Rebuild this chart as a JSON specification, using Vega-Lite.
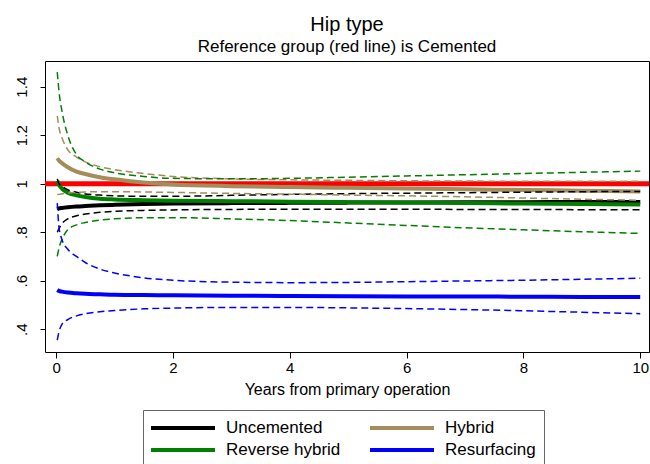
{
  "$schema": "https://vega.github.io/schema/vega-lite/v6.json",
  "autosize": {"type": "none"},
  "padding": {"left": 45, "top": 61, "right": 1, "bottom": 112},
  "width": 604,
  "height": 291,
  "title": {"text": "Hip type", "subtitle": "Reference group (red line) is Cemented"},
  "config": {
    "font": "Liberation Sans",
    "view": {"stroke": "#000", "strokeWidth": 1},
    "title": {"font": "Liberation Sans", "fontSize": 20, "fontWeight": "normal", "color": "#000", "subtitleFont": "Liberation Sans", "subtitleFontSize": 17, "subtitleColor": "#000", "subtitlePadding": 4, "anchor": "middle", "frame": "group", "offset": 6},
    "axis": {"grid": false, "domain": false, "tickColor": "#000", "labelColor": "#000", "labelFont": "Liberation Sans", "labelFontSize": 15, "titleFont": "Liberation Sans", "titleFontWeight": "normal", "titleColor": "#000"},
    "legend": {"labelFont": "Liberation Sans", "labelFontSize": 17, "labelColor": "#000"}
  },
  "datasets": {
    "est": [
      {"group": "Uncemented", "t": 0.02, "v": 0.895}, {"group": "Uncemented", "t": 0.05, "v": 0.898}, {"group": "Uncemented", "t": 0.1, "v": 0.9}, {"group": "Uncemented", "t": 0.2, "v": 0.903}, {"group": "Uncemented", "t": 0.35, "v": 0.906}, {"group": "Uncemented", "t": 0.5, "v": 0.908}, {"group": "Uncemented", "t": 0.75, "v": 0.911}, {"group": "Uncemented", "t": 1, "v": 0.913}, {"group": "Uncemented", "t": 1.5, "v": 0.916}, {"group": "Uncemented", "t": 2, "v": 0.918}, {"group": "Uncemented", "t": 3, "v": 0.92}, {"group": "Uncemented", "t": 4, "v": 0.921}, {"group": "Uncemented", "t": 5, "v": 0.922}, {"group": "Uncemented", "t": 6, "v": 0.923}, {"group": "Uncemented", "t": 7, "v": 0.924}, {"group": "Uncemented", "t": 8, "v": 0.924}, {"group": "Uncemented", "t": 9, "v": 0.925}, {"group": "Uncemented", "t": 10, "v": 0.925},
      {"group": "Hybrid", "t": 0.02, "v": 1.105}, {"group": "Hybrid", "t": 0.05, "v": 1.095}, {"group": "Hybrid", "t": 0.1, "v": 1.085}, {"group": "Hybrid", "t": 0.2, "v": 1.068}, {"group": "Hybrid", "t": 0.35, "v": 1.05}, {"group": "Hybrid", "t": 0.5, "v": 1.04}, {"group": "Hybrid", "t": 0.75, "v": 1.027}, {"group": "Hybrid", "t": 1, "v": 1.018}, {"group": "Hybrid", "t": 1.5, "v": 1.005}, {"group": "Hybrid", "t": 2, "v": 0.997}, {"group": "Hybrid", "t": 3, "v": 0.99}, {"group": "Hybrid", "t": 4, "v": 0.986}, {"group": "Hybrid", "t": 5, "v": 0.983}, {"group": "Hybrid", "t": 6, "v": 0.98}, {"group": "Hybrid", "t": 7, "v": 0.977}, {"group": "Hybrid", "t": 8, "v": 0.974}, {"group": "Hybrid", "t": 9, "v": 0.971}, {"group": "Hybrid", "t": 10, "v": 0.968},
      {"group": "Reverse hybrid", "t": 0.02, "v": 1.012}, {"group": "Reverse hybrid", "t": 0.05, "v": 0.995}, {"group": "Reverse hybrid", "t": 0.1, "v": 0.98}, {"group": "Reverse hybrid", "t": 0.2, "v": 0.963}, {"group": "Reverse hybrid", "t": 0.35, "v": 0.952}, {"group": "Reverse hybrid", "t": 0.5, "v": 0.945}, {"group": "Reverse hybrid", "t": 0.75, "v": 0.938}, {"group": "Reverse hybrid", "t": 1, "v": 0.935}, {"group": "Reverse hybrid", "t": 1.5, "v": 0.932}, {"group": "Reverse hybrid", "t": 2, "v": 0.93}, {"group": "Reverse hybrid", "t": 3, "v": 0.928}, {"group": "Reverse hybrid", "t": 4, "v": 0.926}, {"group": "Reverse hybrid", "t": 5, "v": 0.924}, {"group": "Reverse hybrid", "t": 6, "v": 0.922}, {"group": "Reverse hybrid", "t": 7, "v": 0.92}, {"group": "Reverse hybrid", "t": 8, "v": 0.918}, {"group": "Reverse hybrid", "t": 9, "v": 0.916}, {"group": "Reverse hybrid", "t": 10, "v": 0.914},
      {"group": "Resurfacing", "t": 0.02, "v": 0.562}, {"group": "Resurfacing", "t": 0.05, "v": 0.558}, {"group": "Resurfacing", "t": 0.1, "v": 0.555}, {"group": "Resurfacing", "t": 0.2, "v": 0.551}, {"group": "Resurfacing", "t": 0.35, "v": 0.548}, {"group": "Resurfacing", "t": 0.5, "v": 0.546}, {"group": "Resurfacing", "t": 0.75, "v": 0.544}, {"group": "Resurfacing", "t": 1, "v": 0.542}, {"group": "Resurfacing", "t": 1.5, "v": 0.541}, {"group": "Resurfacing", "t": 2, "v": 0.54}, {"group": "Resurfacing", "t": 3, "v": 0.538}, {"group": "Resurfacing", "t": 4, "v": 0.537}, {"group": "Resurfacing", "t": 5, "v": 0.536}, {"group": "Resurfacing", "t": 6, "v": 0.535}, {"group": "Resurfacing", "t": 7, "v": 0.535}, {"group": "Resurfacing", "t": 8, "v": 0.534}, {"group": "Resurfacing", "t": 9, "v": 0.533}, {"group": "Resurfacing", "t": 10, "v": 0.533}
    ],
    "ci": [
      {"group": "Uncemented", "bound": "hi", "t": 0.02, "v": 1.02}, {"group": "Uncemented", "bound": "hi", "t": 0.05, "v": 1.0}, {"group": "Uncemented", "bound": "hi", "t": 0.1, "v": 0.99}, {"group": "Uncemented", "bound": "hi", "t": 0.2, "v": 0.975}, {"group": "Uncemented", "bound": "hi", "t": 0.35, "v": 0.965}, {"group": "Uncemented", "bound": "hi", "t": 0.5, "v": 0.958}, {"group": "Uncemented", "bound": "hi", "t": 0.75, "v": 0.953}, {"group": "Uncemented", "bound": "hi", "t": 1, "v": 0.95}, {"group": "Uncemented", "bound": "hi", "t": 1.5, "v": 0.948}, {"group": "Uncemented", "bound": "hi", "t": 2, "v": 0.948}, {"group": "Uncemented", "bound": "hi", "t": 3, "v": 0.952}, {"group": "Uncemented", "bound": "hi", "t": 4, "v": 0.956}, {"group": "Uncemented", "bound": "hi", "t": 5, "v": 0.959}, {"group": "Uncemented", "bound": "hi", "t": 6, "v": 0.961}, {"group": "Uncemented", "bound": "hi", "t": 7, "v": 0.963}, {"group": "Uncemented", "bound": "hi", "t": 8, "v": 0.965}, {"group": "Uncemented", "bound": "hi", "t": 9, "v": 0.967}, {"group": "Uncemented", "bound": "hi", "t": 10, "v": 0.968},
      {"group": "Uncemented", "bound": "lo", "t": 0.02, "v": 0.8}, {"group": "Uncemented", "bound": "lo", "t": 0.05, "v": 0.815}, {"group": "Uncemented", "bound": "lo", "t": 0.1, "v": 0.835}, {"group": "Uncemented", "bound": "lo", "t": 0.2, "v": 0.855}, {"group": "Uncemented", "bound": "lo", "t": 0.35, "v": 0.868}, {"group": "Uncemented", "bound": "lo", "t": 0.5, "v": 0.875}, {"group": "Uncemented", "bound": "lo", "t": 0.75, "v": 0.882}, {"group": "Uncemented", "bound": "lo", "t": 1, "v": 0.886}, {"group": "Uncemented", "bound": "lo", "t": 1.5, "v": 0.89}, {"group": "Uncemented", "bound": "lo", "t": 2, "v": 0.892}, {"group": "Uncemented", "bound": "lo", "t": 3, "v": 0.894}, {"group": "Uncemented", "bound": "lo", "t": 4, "v": 0.895}, {"group": "Uncemented", "bound": "lo", "t": 5, "v": 0.895}, {"group": "Uncemented", "bound": "lo", "t": 6, "v": 0.895}, {"group": "Uncemented", "bound": "lo", "t": 7, "v": 0.894}, {"group": "Uncemented", "bound": "lo", "t": 8, "v": 0.894}, {"group": "Uncemented", "bound": "lo", "t": 9, "v": 0.893}, {"group": "Uncemented", "bound": "lo", "t": 10, "v": 0.893},
      {"group": "Hybrid", "bound": "hi", "t": 0.02, "v": 1.28}, {"group": "Hybrid", "bound": "hi", "t": 0.05, "v": 1.23}, {"group": "Hybrid", "bound": "hi", "t": 0.1, "v": 1.19}, {"group": "Hybrid", "bound": "hi", "t": 0.2, "v": 1.14}, {"group": "Hybrid", "bound": "hi", "t": 0.35, "v": 1.11}, {"group": "Hybrid", "bound": "hi", "t": 0.5, "v": 1.09}, {"group": "Hybrid", "bound": "hi", "t": 0.75, "v": 1.07}, {"group": "Hybrid", "bound": "hi", "t": 1, "v": 1.058}, {"group": "Hybrid", "bound": "hi", "t": 1.5, "v": 1.042}, {"group": "Hybrid", "bound": "hi", "t": 2, "v": 1.03}, {"group": "Hybrid", "bound": "hi", "t": 3, "v": 1.02}, {"group": "Hybrid", "bound": "hi", "t": 4, "v": 1.016}, {"group": "Hybrid", "bound": "hi", "t": 5, "v": 1.014}, {"group": "Hybrid", "bound": "hi", "t": 6, "v": 1.012}, {"group": "Hybrid", "bound": "hi", "t": 7, "v": 1.011}, {"group": "Hybrid", "bound": "hi", "t": 8, "v": 1.01}, {"group": "Hybrid", "bound": "hi", "t": 9, "v": 1.01}, {"group": "Hybrid", "bound": "hi", "t": 10, "v": 1.01},
      {"group": "Hybrid", "bound": "lo", "t": 0.02, "v": 0.955}, {"group": "Hybrid", "bound": "lo", "t": 0.05, "v": 0.956}, {"group": "Hybrid", "bound": "lo", "t": 0.1, "v": 0.958}, {"group": "Hybrid", "bound": "lo", "t": 0.2, "v": 0.962}, {"group": "Hybrid", "bound": "lo", "t": 0.35, "v": 0.964}, {"group": "Hybrid", "bound": "lo", "t": 0.5, "v": 0.966}, {"group": "Hybrid", "bound": "lo", "t": 0.75, "v": 0.967}, {"group": "Hybrid", "bound": "lo", "t": 1, "v": 0.967}, {"group": "Hybrid", "bound": "lo", "t": 1.5, "v": 0.966}, {"group": "Hybrid", "bound": "lo", "t": 2, "v": 0.964}, {"group": "Hybrid", "bound": "lo", "t": 3, "v": 0.96}, {"group": "Hybrid", "bound": "lo", "t": 4, "v": 0.957}, {"group": "Hybrid", "bound": "lo", "t": 5, "v": 0.953}, {"group": "Hybrid", "bound": "lo", "t": 6, "v": 0.95}, {"group": "Hybrid", "bound": "lo", "t": 7, "v": 0.946}, {"group": "Hybrid", "bound": "lo", "t": 8, "v": 0.941}, {"group": "Hybrid", "bound": "lo", "t": 9, "v": 0.936}, {"group": "Hybrid", "bound": "lo", "t": 10, "v": 0.932},
      {"group": "Reverse hybrid", "bound": "hi", "t": 0.02, "v": 1.46}, {"group": "Reverse hybrid", "bound": "hi", "t": 0.05, "v": 1.38}, {"group": "Reverse hybrid", "bound": "hi", "t": 0.1, "v": 1.3}, {"group": "Reverse hybrid", "bound": "hi", "t": 0.2, "v": 1.2}, {"group": "Reverse hybrid", "bound": "hi", "t": 0.35, "v": 1.12}, {"group": "Reverse hybrid", "bound": "hi", "t": 0.5, "v": 1.09}, {"group": "Reverse hybrid", "bound": "hi", "t": 0.75, "v": 1.06}, {"group": "Reverse hybrid", "bound": "hi", "t": 1, "v": 1.045}, {"group": "Reverse hybrid", "bound": "hi", "t": 1.5, "v": 1.03}, {"group": "Reverse hybrid", "bound": "hi", "t": 2, "v": 1.022}, {"group": "Reverse hybrid", "bound": "hi", "t": 3, "v": 1.02}, {"group": "Reverse hybrid", "bound": "hi", "t": 4, "v": 1.022}, {"group": "Reverse hybrid", "bound": "hi", "t": 5, "v": 1.027}, {"group": "Reverse hybrid", "bound": "hi", "t": 6, "v": 1.032}, {"group": "Reverse hybrid", "bound": "hi", "t": 7, "v": 1.037}, {"group": "Reverse hybrid", "bound": "hi", "t": 8, "v": 1.042}, {"group": "Reverse hybrid", "bound": "hi", "t": 9, "v": 1.047}, {"group": "Reverse hybrid", "bound": "hi", "t": 10, "v": 1.052},
      {"group": "Reverse hybrid", "bound": "lo", "t": 0.02, "v": 0.7}, {"group": "Reverse hybrid", "bound": "lo", "t": 0.05, "v": 0.735}, {"group": "Reverse hybrid", "bound": "lo", "t": 0.1, "v": 0.77}, {"group": "Reverse hybrid", "bound": "lo", "t": 0.2, "v": 0.81}, {"group": "Reverse hybrid", "bound": "lo", "t": 0.35, "v": 0.83}, {"group": "Reverse hybrid", "bound": "lo", "t": 0.5, "v": 0.84}, {"group": "Reverse hybrid", "bound": "lo", "t": 0.75, "v": 0.85}, {"group": "Reverse hybrid", "bound": "lo", "t": 1, "v": 0.855}, {"group": "Reverse hybrid", "bound": "lo", "t": 1.5, "v": 0.86}, {"group": "Reverse hybrid", "bound": "lo", "t": 2, "v": 0.86}, {"group": "Reverse hybrid", "bound": "lo", "t": 3, "v": 0.855}, {"group": "Reverse hybrid", "bound": "lo", "t": 4, "v": 0.848}, {"group": "Reverse hybrid", "bound": "lo", "t": 5, "v": 0.838}, {"group": "Reverse hybrid", "bound": "lo", "t": 6, "v": 0.828}, {"group": "Reverse hybrid", "bound": "lo", "t": 7, "v": 0.818}, {"group": "Reverse hybrid", "bound": "lo", "t": 8, "v": 0.81}, {"group": "Reverse hybrid", "bound": "lo", "t": 9, "v": 0.802}, {"group": "Reverse hybrid", "bound": "lo", "t": 10, "v": 0.795},
      {"group": "Resurfacing", "bound": "hi", "t": 0.02, "v": 0.92}, {"group": "Resurfacing", "bound": "hi", "t": 0.05, "v": 0.82}, {"group": "Resurfacing", "bound": "hi", "t": 0.1, "v": 0.77}, {"group": "Resurfacing", "bound": "hi", "t": 0.2, "v": 0.73}, {"group": "Resurfacing", "bound": "hi", "t": 0.35, "v": 0.7}, {"group": "Resurfacing", "bound": "hi", "t": 0.5, "v": 0.675}, {"group": "Resurfacing", "bound": "hi", "t": 0.75, "v": 0.648}, {"group": "Resurfacing", "bound": "hi", "t": 1, "v": 0.632}, {"group": "Resurfacing", "bound": "hi", "t": 1.5, "v": 0.612}, {"group": "Resurfacing", "bound": "hi", "t": 2, "v": 0.602}, {"group": "Resurfacing", "bound": "hi", "t": 3, "v": 0.594}, {"group": "Resurfacing", "bound": "hi", "t": 4, "v": 0.592}, {"group": "Resurfacing", "bound": "hi", "t": 5, "v": 0.593}, {"group": "Resurfacing", "bound": "hi", "t": 6, "v": 0.596}, {"group": "Resurfacing", "bound": "hi", "t": 7, "v": 0.599}, {"group": "Resurfacing", "bound": "hi", "t": 8, "v": 0.602}, {"group": "Resurfacing", "bound": "hi", "t": 9, "v": 0.606}, {"group": "Resurfacing", "bound": "hi", "t": 10, "v": 0.61},
      {"group": "Resurfacing", "bound": "lo", "t": 0.02, "v": 0.355}, {"group": "Resurfacing", "bound": "lo", "t": 0.05, "v": 0.39}, {"group": "Resurfacing", "bound": "lo", "t": 0.1, "v": 0.42}, {"group": "Resurfacing", "bound": "lo", "t": 0.2, "v": 0.44}, {"group": "Resurfacing", "bound": "lo", "t": 0.35, "v": 0.455}, {"group": "Resurfacing", "bound": "lo", "t": 0.5, "v": 0.464}, {"group": "Resurfacing", "bound": "lo", "t": 0.75, "v": 0.472}, {"group": "Resurfacing", "bound": "lo", "t": 1, "v": 0.477}, {"group": "Resurfacing", "bound": "lo", "t": 1.5, "v": 0.484}, {"group": "Resurfacing", "bound": "lo", "t": 2, "v": 0.487}, {"group": "Resurfacing", "bound": "lo", "t": 3, "v": 0.49}, {"group": "Resurfacing", "bound": "lo", "t": 4, "v": 0.49}, {"group": "Resurfacing", "bound": "lo", "t": 5, "v": 0.488}, {"group": "Resurfacing", "bound": "lo", "t": 6, "v": 0.485}, {"group": "Resurfacing", "bound": "lo", "t": 7, "v": 0.481}, {"group": "Resurfacing", "bound": "lo", "t": 8, "v": 0.476}, {"group": "Resurfacing", "bound": "lo", "t": 9, "v": 0.47}, {"group": "Resurfacing", "bound": "lo", "t": 10, "v": 0.464}
    ],
    "ref": [{"v": 1}]
  },
  "resolve": {"legend": {"color": "independent"}},
  "layer": [
    {
      "data": {"name": "ref"},
      "mark": {"type": "rule", "color": "#FF0000", "strokeWidth": 5},
      "encoding": {"y": {"field": "v", "type": "quantitative", "scale": {"domain": [0.306, 1.506], "nice": false, "zero": false}}}
    },
    {
      "data": {"name": "est"},
      "mark": {"type": "line", "strokeWidth": 4, "interpolate": "monotone", "clip": true},
      "encoding": {
        "x": {"field": "t", "type": "quantitative", "scale": {"domain": [-0.19, 10.15], "nice": false, "zero": false},
              "axis": {"values": [0, 2, 4, 6, 8, 10], "format": "d", "title": "Years from primary operation", "titleFontSize": 16, "tickSize": 6, "labelPadding": 2, "titlePadding": 6, "labelFlush": false}},
        "y": {"field": "v", "type": "quantitative", "scale": {"domain": [0.306, 1.506], "nice": false, "zero": false},
              "axis": {"values": [0.4, 0.6, 0.8, 1, 1.2, 1.4], "title": null, "tickSize": 5, "labelAngle": 270, "labelAlign": "center", "labelBaseline": "bottom", "labelPadding": 11, "labelExpr": "replace(format(datum.value, '~g'), /^0/, '')"}},
        "color": {"field": "group", "type": "nominal",
                  "scale": {"domain": ["Uncemented", "Hybrid", "Reverse hybrid", "Resurfacing"], "range": ["#000000", "#A38D5A", "#007F00", "#0000FF"]},
                  "legend": {"title": null, "orient": "none", "legendX": 98, "legendY": 349, "direction": "horizontal", "columns": 2, "symbolType": "M-1.25,0L6.75,0", "symbolStrokeWidth": 4, "symbolSize": 256, "labelOffset": 55, "columnPadding": 21, "rowPadding": 4, "padding": 8, "strokeColor": "#666", "fillColor": "#fff"}}
      }
    },
    {
      "data": {"name": "ci"},
      "mark": {"type": "line", "strokeWidth": 1.5, "strokeDash": [7, 4], "interpolate": "monotone", "clip": true},
      "encoding": {
        "x": {"field": "t", "type": "quantitative"},
        "y": {"field": "v", "type": "quantitative"},
        "detail": {"field": "bound"},
        "color": {"field": "group", "type": "nominal", "legend": null}
      }
    }
  ]
}
